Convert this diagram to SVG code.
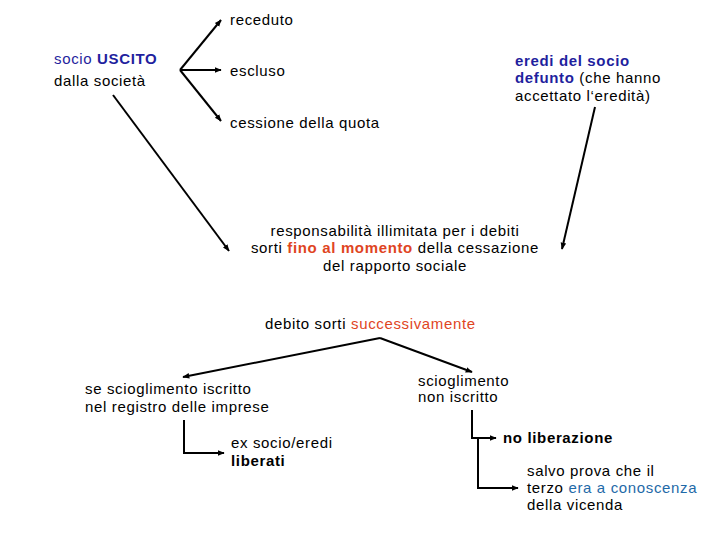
<svg xmlns="http://www.w3.org/2000/svg" width="720" height="540" viewBox="0 0 720 540">
<defs>
<marker id="ah" viewBox="0 0 10 10" refX="9" refY="5" markerWidth="7" markerHeight="7" markerUnits="userSpaceOnUse" orient="auto">
<path d="M0,1 L10,5 L0,9 z" fill="#000"/>
</marker>
<style>
text{font-family:"Liberation Sans",Arial,sans-serif;font-size:15px;letter-spacing:0.65px;fill:#000}
.b{font-weight:bold}
.blue{fill:#1f1f9e}
.red{fill:#e0451f}
.teal{fill:#1f6aa8}
.c{stroke:#000;stroke-width:2;fill:none;marker-end:url(#ah)}
</style>
</defs>
<rect width="720" height="540" fill="#fff"/>
<g id="connectors">
<line class="c" x1="180" y1="70" x2="221" y2="20"/>
<line class="c" x1="180" y1="70" x2="221" y2="70"/>
<line class="c" x1="180" y1="70" x2="221" y2="121"/>
<line class="c" x1="113" y1="95" x2="229" y2="251"/>
<line class="c" x1="595" y1="107" x2="562" y2="249"/>
<polyline class="c" points="380,338 183,377"/>
<polyline class="c" points="380,338 472,372"/>
<polyline class="c" points="184,420 184,453 224,453"/>
<polyline class="c" points="472,410 472,438 496,438"/>
<polyline class="c" points="478,438 478,488 518,488"/>
</g>
<g id="socio-uscito">
<text x="54" y="64"><tspan class="blue">socio </tspan><tspan class="blue b">USCITO</tspan></text>
<text x="54" y="86">dalla società</text>
</g>
<g id="receduto"><text x="230" y="25">receduto</text></g>
<g id="escluso"><text x="230" y="76">escluso</text></g>
<g id="cessione"><text x="230" y="128">cessione della quota</text></g>
<g id="eredi">
<text x="515" y="66" class="b blue">eredi del socio</text>
<text x="515" y="83"><tspan class="b blue">defunto</tspan> (che hanno</text>
<text x="515" y="101">accettato l‘eredità)</text>
</g>
<g id="responsabilita">
<text x="395" y="236" text-anchor="middle">responsabilità illimitata per i debiti</text>
<text x="395" y="253" text-anchor="middle">sorti <tspan class="b red">fino al momento</tspan> della cessazione</text>
<text x="395" y="271" text-anchor="middle">del rapporto sociale</text>
</g>
<g id="debito"><text x="265" y="329">debito sorti <tspan class="red">successivamente</tspan></text></g>
<g id="iscritto">
<text x="85" y="394">se scioglimento iscritto</text>
<text x="85" y="412">nel registro delle imprese</text>
</g>
<g id="liberati">
<text x="231" y="448">ex socio/eredi</text>
<text x="231" y="466" class="b">liberati</text>
</g>
<g id="non-iscritto">
<text x="418" y="386">scioglimento</text>
<text x="418" y="402">non iscritto</text>
</g>
<g id="no-liberazione"><text x="503" y="443" class="b">no liberazione</text></g>
<g id="salvo">
<text x="527" y="476">salvo prova che il</text>
<text x="527" y="493">terzo <tspan class="teal">era a conoscenza</tspan></text>
<text x="527" y="510">della vicenda</text>
</g>
</svg>
